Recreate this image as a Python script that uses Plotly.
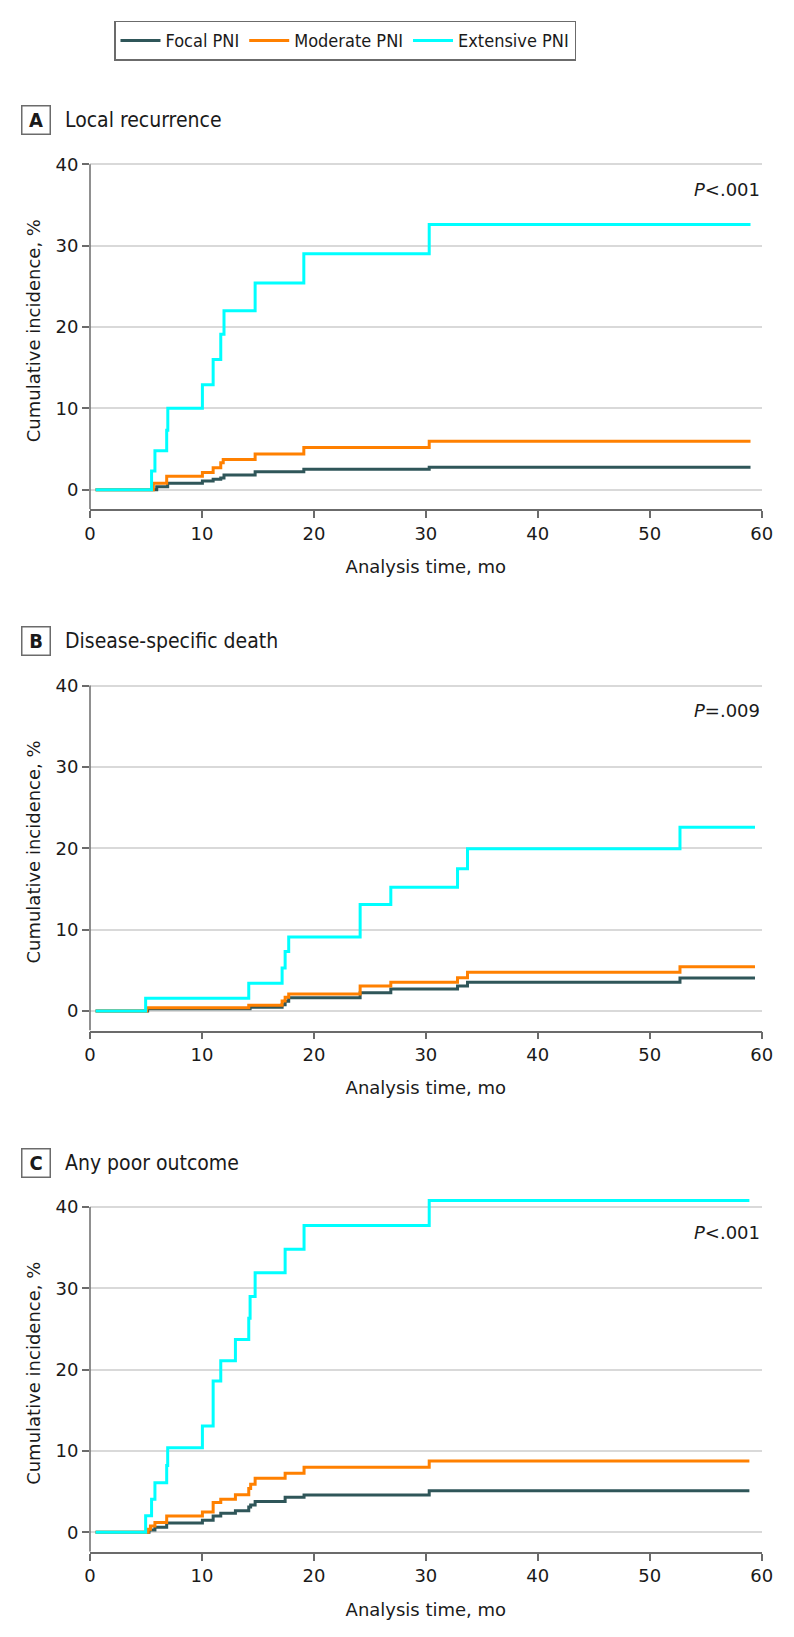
import plotly.graph_objects as go

# Cumulative incidence by PNI extent (months vs %)
# A: Local recurrence
a_focal_t = [0.5, 5.96, 6.94, 10.04, 11.0, 11.68, 11.97, 14.75, 19.1, 30.3, 59.0]
a_focal_y = [0, 0.37, 0.78, 1.07, 1.27, 1.43, 1.8, 2.2, 2.5, 2.75, 2.75]
a_mod_t = [0.5, 5.66, 6.85, 10.04, 11.0, 11.68, 11.9, 14.75, 19.1, 30.3, 59.0]
a_mod_y = [0, 0.8, 1.64, 2.1, 2.7, 3.3, 3.7, 4.4, 5.2, 5.95, 5.95]
a_ext_t = [0.5, 5.5, 5.8, 6.85, 6.95, 10.04, 11.0, 11.68, 11.97, 14.75, 19.1, 30.3, 59.0]
a_ext_y = [0, 2.3, 4.8, 7.3, 10.0, 12.9, 16.0, 19.1, 22.0, 25.4, 29.0, 32.6, 32.6]

# B: Disease-specific death
b_focal_t = [0.5, 5.15, 14.3, 17.16, 17.43, 17.75, 24.13, 26.87, 32.83, 33.72, 52.7, 59.4]
b_focal_y = [0, 0.29, 0.45, 0.78, 1.2, 1.64, 2.25, 2.7, 3.07, 3.52, 4.06, 4.06]
b_mod_t = [0.5, 5.06, 14.18, 17.16, 17.43, 17.75, 24.13, 26.87, 32.83, 33.72, 52.7, 59.4]
b_mod_y = [0, 0.41, 0.7, 1.23, 1.68, 2.1, 3.07, 3.52, 4.1, 4.75, 5.45, 5.45]
b_ext_t = [0.5, 4.97, 14.18, 17.16, 17.43, 17.75, 24.13, 26.87, 32.83, 33.72, 52.7, 59.4]
b_ext_y = [0, 1.56, 3.4, 5.3, 7.3, 9.1, 13.1, 15.2, 17.5, 19.96, 22.6, 22.6]

# C: Any poor outcome
c_focal_t = [0.5, 5.27, 5.8, 6.85, 10.04, 11.0, 11.68, 12.99, 14.18, 14.35, 14.75, 17.43, 19.12, 30.3, 58.9]
c_focal_y = [0, 0.29, 0.61, 1.15, 1.48, 2.0, 2.34, 2.66, 3.1, 3.35, 3.8, 4.3, 4.6, 5.12, 5.12]
c_mod_t = [0.5, 5.2, 5.4, 5.8, 6.85, 10.04, 11.0, 11.68, 12.99, 14.18, 14.35, 14.75, 17.43, 19.12, 30.3, 58.9]
c_mod_y = [0, 0.37, 0.78, 1.19, 2.0, 2.5, 3.65, 4.06, 4.63, 5.37, 5.9, 6.64, 7.25, 8.0, 8.77, 8.77]
c_ext_t = [0.5, 4.97, 5.5, 5.8, 6.85, 6.94, 10.04, 11.0, 11.68, 12.99, 14.18, 14.3, 14.75, 17.43, 19.12, 30.3, 58.9]
c_ext_y = [0, 2.05, 4.06, 6.1, 8.2, 10.4, 13.07, 18.6, 21.1, 23.7, 26.3, 29.0, 31.9, 34.8, 37.7, 40.8, 40.8]

groups = ["Focal PNI", "Moderate PNI", "Extensive PNI"]
colors = ["#2F5659", "#FF8000", "#00FFFF"]

panels = [
    ("A", "Local recurrence", "<i>P</i>&lt;.001",
     [(a_focal_t, a_focal_y), (a_mod_t, a_mod_y), (a_ext_t, a_ext_y)]),
    ("B", "Disease-specific death", "<i>P</i>=.009",
     [(b_focal_t, b_focal_y), (b_mod_t, b_mod_y), (b_ext_t, b_ext_y)]),
    ("C", "Any poor outcome", "<i>P</i>&lt;.001",
     [(c_focal_t, c_focal_y), (c_mod_t, c_mod_y), (c_ext_t, c_ext_y)]),
]

# the page body has an 8px margin, so the figure is drawn 8px in from the corner
OFF = 8
W, H = 794 - OFF, 1637 - OFF
TICK = "DejaVu Sans"
COND = "DejaVu Sans Condensed, Roboto, sans-serif"


def px_x(p):
    return (p - OFF) / W


def px_y(p):
    return 1 - (p - OFF) / H


# page-pixel geometry of each panel (y=0 line, px per unit)
zero_px = [489.7, 1011.0, 1532.3]
ppu = 8.135
ymin, ymax = -2.4, 41.5
x_left, x_right = 90, 761.7

fig = go.Figure()
shapes = []
annotations = []

for i, (letter, title, pval, series) in enumerate(panels):
    n = "" if i == 0 else str(i + 1)
    for j, (t, y) in enumerate(series):
        fig.add_trace(go.Scatter(
            x=t, y=y, mode="lines", name=groups[j], legendgroup=groups[j],
            showlegend=(i == 0), line=dict(color=colors[j], width=3, shape="hv"),
            xaxis="x" + n, yaxis="y" + n))

    bot = zero_px[i] - ymin * ppu
    top = zero_px[i] - ymax * ppu
    fig.update_layout({
        "xaxis" + n: dict(
            domain=[px_x(x_left), px_x(x_right)], anchor="y" + n, range=[0, 60],
            tickvals=[0, 10, 20, 30, 40, 50, 60], showgrid=False, zeroline=False,
            showline=True, linecolor="#6b6b6b", linewidth=1.5, automargin=False,
            ticks="outside", ticklen=7, tickcolor="#6b6b6b", tickwidth=1.5,
            tickfont=dict(family=TICK, size=18, color="#1a1a1a"),
            title=dict(text="Analysis time, mo", standoff=18,
                       font=dict(family=TICK, size=18, color="#1a1a1a"))),
        "yaxis" + n: dict(
            domain=[px_y(bot), px_y(top)], anchor="x" + n, range=[ymin, ymax],
            tickvals=[0, 10, 20, 30, 40], showgrid=True, gridcolor="#d9d9d9",
            gridwidth=1.5, zeroline=False, showline=False, automargin=False,
            ticks="outside", ticklen=7, tickcolor="#6b6b6b", tickwidth=1.5,
            tickfont=dict(family=TICK, size=18, color="#1a1a1a"),
            title=dict(text="Cumulative incidence, %", standoff=10,
                       font=dict(family=TICK, size=18, color="#1a1a1a"))),
    })
    # y-axis line stops at 40
    shapes.append(dict(type="line", xref="x" + n + " domain", yref="y" + n,
                       x0=0, x1=0, y0=ymin, y1=40,
                       line=dict(color="#6b6b6b", width=1.5)))
    # panel label box + title
    cy = px_y(zero_px[i] - 369.7)
    annotations.append(dict(
        xref="paper", yref="paper", x=px_x(21), y=cy, xanchor="left", yanchor="middle",
        text="<b>" + letter + "</b>", showarrow=False, width=27, height=27,
        bordercolor="#6b6b6b", borderwidth=1.5, borderpad=0, bgcolor="white",
        font=dict(family=COND, size=20, color="#1a1a1a")))
    annotations.append(dict(
        xref="paper", yref="paper", x=px_x(63), y=cy, xanchor="left", yanchor="middle",
        text=title, showarrow=False,
        font=dict(family=COND, size=21, color="#1a1a1a")))
    annotations.append(dict(
        xref="x" + n + " domain", yref="y" + n, x=1, y=36.9, xanchor="right",
        yanchor="middle", text=pval, showarrow=False,
        font=dict(family=TICK, size=18, color="#1a1a1a")))

fig.update_layout(
    width=W, height=H, margin=dict(l=0, r=0, t=0, b=0, autoexpand=False),
    paper_bgcolor="white", plot_bgcolor="white",
    shapes=shapes, annotations=annotations,
    legend=dict(orientation="h", x=px_x(114), y=px_y(20.7), xanchor="left",
                yanchor="top", bordercolor="#6b6b6b", borderwidth=1.5,
                font=dict(family=COND, size=18, color="#1a1a1a"),
                itemwidth=40, traceorder="normal"),
    showlegend=True,
)

fig.write_html("out.html")
